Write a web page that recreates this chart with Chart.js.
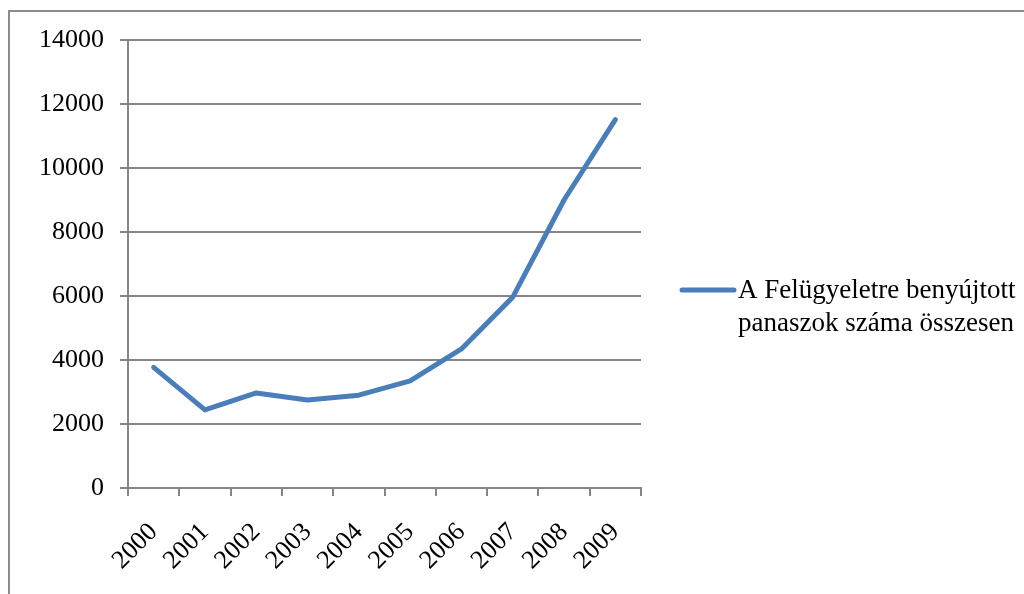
<!DOCTYPE html>
<html>
<head>
<meta charset="utf-8">
<script src="https://cdn.jsdelivr.net/npm/chart.js@4/dist/chart.umd.min.js"></script>
<style>
  body { margin: 0; background: #fff; overflow: hidden; }
  #frame { position: absolute; left: 8px; top: 10px; width: 1100px; height: 700px; border: 2px solid #8c8c8c; }
  #myChart { position: absolute; left: 0; top: 0; }
</style>
</head>
<body>
<div id="frame"></div>
<canvas id="myChart" width="1024" height="594"></canvas>
<script>
const years = ['2000', '2001', '2002', '2003', '2004', '2005', '2006', '2007', '2008', '2009']
const complaints = [3770, 2440, 2970, 2750, 2900, 3350, 4345, 5965, 9000, 11510]
const legendLines = ['A Felügyeletre benyújtott', 'panaszok száma összesen']
const yTicks = [0, 2000, 4000, 6000, 8000, 10000, 12000, 14000]

const gray = '#868686'
const blue = '#4a7ebb'
const serif = "'Liberation Serif', 'Times New Roman', serif"

// legend drawn by hand so the label can wrap on two lines
const sideLegend = {
    id: 'sideLegend',
    afterDraw(chart) {
        const ctx = chart.ctx
        const ds = chart.data.datasets[0]
        ctx.save()
        ctx.strokeStyle = ds.borderColor
        ctx.lineWidth = 5
        ctx.lineCap = 'round'
        ctx.beginPath()
        ctx.moveTo(682, 290)
        ctx.lineTo(734, 290)
        ctx.stroke()
        ctx.fillStyle = '#000'
        ctx.font = '27px ' + serif
        ctx.textBaseline = 'middle'
        legendLines.forEach((t, i) => ctx.fillText(t, 738, 291 + i * 33))
        ctx.restore()
    }
}

const ctx = document.getElementById('myChart')

new Chart(ctx, {
    type: 'line',
    data: {
        labels: years,
        datasets: [{
            label: legendLines.join(' '),
            data: complaints,
            borderColor: blue,
            backgroundColor: blue,
            borderWidth: 5,
            pointRadius: 0,
            tension: 0,
            borderCapStyle: 'round',
            borderJoinStyle: 'round'
        }]
    },
    options: {
        responsive: false,
        animation: false,
        layout: { padding: { left: 0, right: 383, top: 40, bottom: 0 } },
        plugins: {
            legend: { display: false },
            tooltip: { enabled: false }
        },
        scales: {
            x: {
                offset: true,
                afterFit: (s) => { s.height = 106 },
                border: { color: gray, width: 2 },
                grid: { offset: true, drawOnChartArea: false, drawTicks: true, tickLength: 8, color: gray, lineWidth: 2 },
                ticks: {
                    color: '#000',
                    font: { family: serif, size: 26 },
                    minRotation: 45,
                    maxRotation: 45,
                    padding: 21
                }
            },
            y: {
                min: 0,
                max: 14000,
                afterFit: (s) => { s.width = 128 },
                afterBuildTicks: (s) => { s.ticks = yTicks.map(v => ({ value: v })) },
                border: { color: gray, width: 2 },
                grid: { color: gray, lineWidth: 2, tickLength: 8 },
                ticks: {
                    color: '#000',
                    font: { family: serif, size: 26 },
                    padding: 16,
                    callback: (v) => String(v)
                }
            }
        }
    },
    plugins: [sideLegend]
})
</script>
</body>
</html>
